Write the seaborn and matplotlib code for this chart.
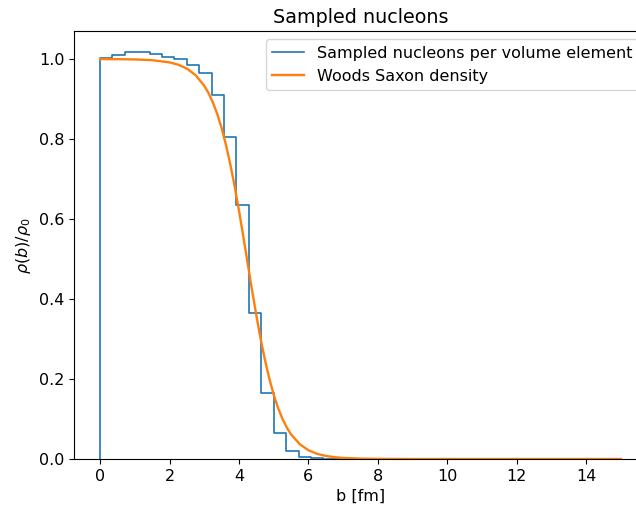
import numpy as np
import matplotlib
matplotlib.use("Agg")
import matplotlib.pyplot as plt
import seaborn as sns

# sampled nucleon histogram: 42 bins between 0 and 15 fm
b_min, b_max, n_bins = 0.0, 15.0, 42
hist_heights = [1.003, 1.010, 1.018, 1.018, 1.012, 1.006, 0.999, 0.985,
                0.966, 0.910, 0.804, 0.635, 0.366, 0.164, 0.064, 0.020,
                0.005, 0.0015, 0.0005] + [0.0] * 23

# Woods Saxon curve
ws_b = [0, 0.5, 1, 1.5, 2, 2.25, 2.5, 2.75, 3, 3.125, 3.25, 3.375, 3.5, 3.625,
        3.75, 3.875, 4, 4.125, 4.25, 4.375, 4.5, 4.625, 4.75, 4.875, 5, 5.125,
        5.25, 5.375, 5.5, 5.75, 6, 6.25, 6.5, 6.75, 7, 7.5, 8, 9, 10, 12, 15]
ws_rho = [1.0, 0.9997, 0.999, 0.9972, 0.9917, 0.9859, 0.9762, 0.9599, 0.9333,
          0.9146, 0.8912, 0.8624, 0.8274, 0.7855, 0.7369, 0.6818, 0.6210,
          0.5561, 0.4893, 0.4228, 0.3591, 0.2999, 0.2468, 0.2004, 0.1608,
          0.1278, 0.1008, 0.0789, 0.0615, 0.0369, 0.0219, 0.0129, 0.0076,
          0.0045, 0.0026, 0.0009, 0.0003, 0.00004, 0.0, 0.0, 0.0]

edges = np.linspace(b_min, b_max, n_bins + 1)
step_x = np.concatenate([[b_min], edges])
step_y = np.concatenate([[0.0], hist_heights, [0.0]])

plt.rcParams["font.size"] = 11.5

fig = plt.figure(figsize=(6.36, 5.08), dpi=100)
ax = fig.add_axes([0.1164, 0.0965, 0.9009, 0.8415])

sns.lineplot(x=step_x, y=step_y, drawstyle="steps-post", estimator=None, sort=False,
             color="tab:blue", linewidth=1.2, label="Sampled nucleons per volume element", ax=ax)
sns.lineplot(x=ws_b, y=ws_rho, estimator=None, sort=False, color="tab:orange",
             linewidth=1.7, label="Woods Saxon density", ax=ax)

ax.set_ylim(bottom=0)
ax.set_title("Sampled nucleons")
ax.set_xlabel("b [fm]")
ax.set_ylabel(r"$\rho(b)/\rho_0$")
ax.legend(loc="upper right")

fig.savefig("out.png", dpi=100)
